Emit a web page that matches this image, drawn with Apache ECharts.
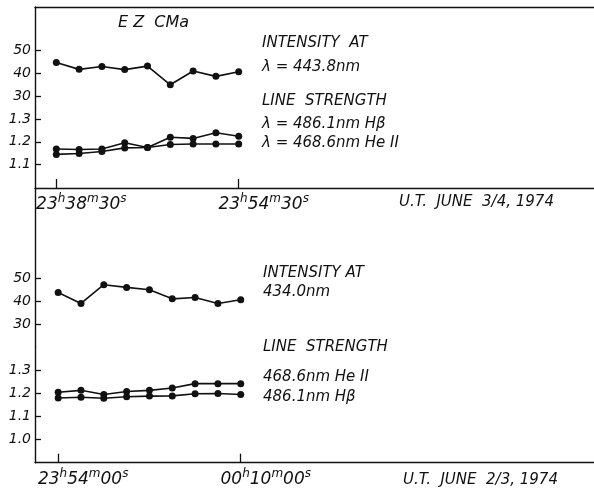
<!DOCTYPE html>
<html><head><meta charset="utf-8">
<script src="https://cdn.jsdelivr.net/npm/echarts@6/dist/echarts.min.js"></script>
<style>html,body{margin:0;padding:0;background:#fff}#c{width:594px;height:490px}</style>
</head><body><div id="c"></div>
<script>
// Time in minutes after 23h00m00s U.T.
var timesTop = [38.5, 40.5, 42.5, 44.5, 46.5, 48.5, 50.5, 52.5, 54.5];
var intensityTop = [44.6, 41.7, 42.9, 41.6, 43.1, 35.1, 41.0, 38.7, 40.7];   // λ 443.8 nm
var hbetaTop = [1.168, 1.166, 1.168, 1.196, 1.175, 1.220, 1.215, 1.240, 1.225]; // 486.1 nm Hβ
var heIITop = [1.144, 1.148, 1.157, 1.173, 1.175, 1.188, 1.190, 1.190, 1.190];  // 468.6 nm He II

var timesBot = [54, 56, 58, 60, 62, 64, 66, 68, 70];
var intensityBot = [43.8, 39.0, 47.2, 46.0, 45.0, 41.0, 41.6, 39.0, 40.6];   // 434.0 nm
var heIIBot = [1.204, 1.212, 1.194, 1.207, 1.212, 1.222, 1.241, 1.241, 1.241];
var hbetaBot = [1.179, 1.182, 1.178, 1.184, 1.187, 1.188, 1.197, 1.198, 1.194];

var xTicksTop = [38.5, 54.5];
var xTicksBot = [54, 70];
var intensityTicks = [30, 40, 50];
var strengthTicksTop = [1.1, 1.2, 1.3];
var strengthTicksBot = [1.0, 1.1, 1.2, 1.3];

function pad(n){ return (n < 10 ? '0' : '') + n; }
function timeLabel(m){
  var tot = Math.round((23*60 + m) * 60);
  var h = Math.floor(tot/3600) % 24, mi = Math.floor((tot%3600)/60), s = tot % 60;
  return '{d|' + pad(h) + '}{s|h}{d|' + pad(mi) + '}{s|m}{d|' + pad(s) + '}{s|s}';
}

var FONT = 'DejaVu Sans';
var black = '#111';
var L = 35, R = 0;

function yAx(grid, min, max, ticks, fmt){
  return {
    type:'value', gridIndex:grid, min:min, max:max,
    axisLine:{show:true, lineStyle:{color:black, width:1.4}},
    axisTick:{show:true, inside:true, length:6, customValues:ticks, lineStyle:{color:black, width:1.3}},
    axisLabel:{show:true, customValues:ticks, margin:4, color:black, fontFamily:FONT, fontStyle:'italic', fontSize:14, formatter:fmt},
    splitLine:{show:false}
  };
}
function xAxLabeled(grid, min, max, ticks){
  return {
    type:'value', gridIndex:grid, min:min, max:max, position:'bottom',
    axisLine:{show:true, lineStyle:{color:black, width:1.4}},
    axisTick:{show:true, inside:true, length:9, customValues:ticks, lineStyle:{color:black, width:1.3}},
    axisLabel:{show:true, customValues:ticks, margin:5, padding:[0,0,0,50], color:black,
      formatter:timeLabel,
      rich:{
        d:{fontFamily:FONT, fontStyle:'italic', fontSize:17, color:black, lineHeight:20, verticalAlign:'bottom'},
        s:{fontFamily:FONT, fontStyle:'italic', fontSize:12, color:black, lineHeight:20, verticalAlign:'top', padding:[0,0,8,0]}
      }},
    splitLine:{show:false}
  };
}
function ser(x, y, xi, yi){
  var d = x.map(function(t,i){ return [t, y[i]]; });
  return {type:'line', xAxisIndex:xi, yAxisIndex:yi, data:d, symbol:'circle', symbolSize:7,
    lineStyle:{color:black, width:1.6}, itemStyle:{color:black}, animation:false, silent:true};
}

function txt(x, y, s, size){
  return {type:'text', x:x, y:y, silent:true,
    style:{text:s, fill:black, font:'italic ' + (size||15) + 'px "' + FONT + '"', verticalAlign:'middle', textAlign:'left'}};
}

var option = {
  backgroundColor:'#fff',
  animation:false,
  grid:[
    {left:L, right:R, top:7, height:101},       // top panel intensity
    {left:L, right:R, top:108, height:80},      // top panel line strength
    {left:L, right:R, top:188, height:159},     // bottom panel intensity
    {left:L, right:R, top:347, height:115.7}    // bottom panel line strength
  ],
  xAxis:[
    {type:'value', gridIndex:0, min:36.63, max:85.67, position:'top',
      axisLine:{show:true, lineStyle:{color:black, width:1.4}}, axisTick:{show:false}, axisLabel:{show:false}, splitLine:{show:false}},
    xAxLabeled(1, 36.63, 85.67, xTicksTop),
    {type:'value', gridIndex:2, min:51.97, max:100.96, show:false},
    xAxLabeled(3, 51.97, 100.96, xTicksBot)
  ],
  yAxis:[
    yAx(0, 25.16, 68.4, intensityTicks, function(v){ return String(Math.round(v)); }),
    yAx(1, 0.995, 1.35, strengthTicksTop, function(v){ return v.toFixed(1); }),
    yAx(2, 19.93, 89.5, intensityTicks, function(v){ return String(Math.round(v)); }),
    yAx(3, 0.8987, 1.3996, strengthTicksBot, function(v){ return v.toFixed(1); })
  ],
  series:[
    ser(timesTop, intensityTop, 0, 0),
    ser(timesTop, hbetaTop, 1, 1),
    ser(timesTop, heIITop, 1, 1),
    ser(timesBot, intensityBot, 2, 2),
    ser(timesBot, heIIBot, 3, 3),
    ser(timesBot, hbetaBot, 3, 3)
  ],
  graphic:[
    txt(118, 23, 'E Z  CMa', 16),
    txt(262, 43, 'INTENSITY  AT'),
    txt(262, 67, 'λ = 443.8nm'),
    txt(262, 101, 'LINE  STRENGTH'),
    txt(262, 124, 'λ = 486.1nm Hβ'),
    txt(262, 143, 'λ = 468.6nm He II'),
    txt(399, 202, 'U.T.  JUNE  3/4, 1974'),
    txt(263, 273, 'INTENSITY AT'),
    txt(263, 292, '434.0nm'),
    txt(263, 347, 'LINE  STRENGTH'),
    txt(263, 377, '468.6nm He II'),
    txt(263, 397, '486.1nm Hβ'),
    txt(403, 480, 'U.T.  JUNE  2/3, 1974')
  ]
};
var chart = echarts.init(document.getElementById('c'), null, {renderer:'canvas'});
chart.setOption(option);
</script>
</body></html>
